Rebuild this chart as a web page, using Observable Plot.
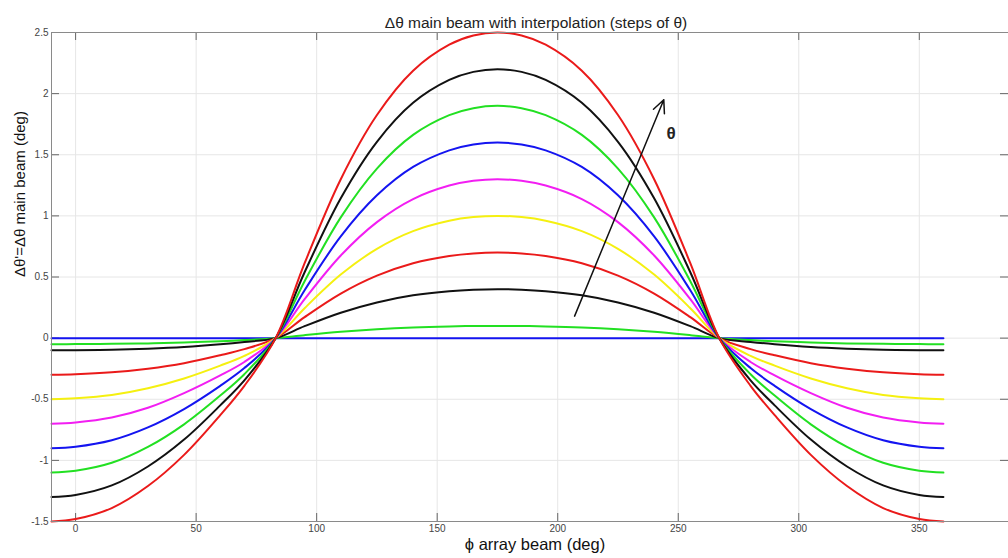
<!DOCTYPE html>
<html><head><meta charset="utf-8">
<script src="https://cdn.jsdelivr.net/npm/d3@7"></script>
<script src="https://cdn.jsdelivr.net/npm/@observablehq/plot@0.6"></script>
<style>body{margin:0;background:#fff;}</style>
</head><body><div id="chart"></div>
<script>
// phi positions (deg) where curves were read
const phi = [-10,0,15,30,45,60,70,83,95,110,125,140,155,165,175,185,195,210,225,240,255,267,280,290,305,320,335,350,360];

// Δθ' values (deg) for each step of θ
const s0 = [0,0,0,0,0,0,0,0,0,0,0,0,0,0,0,0,0,0,0,0,0,0,0,0,0,0,0,0,0];
const s1 = [-0.05,-0.049,-0.047,-0.043,-0.036,-0.025,-0.016,0,0.0245,0.052,0.073,0.0875,0.096,0.099,0.1,0.099,0.096,0.0875,0.073,0.052,0.0245,0,-0.016,-0.025,-0.036,-0.043,-0.047,-0.049,-0.05];
const s2 = [-0.1,-0.099,-0.095,-0.086,-0.072,-0.05,-0.031,0,0.098,0.208,0.292,0.35,0.384,0.396,0.4,0.396,0.384,0.35,0.292,0.208,0.098,0,-0.031,-0.05,-0.072,-0.086,-0.095,-0.099,-0.1];
const s3 = [-0.3,-0.296,-0.28,-0.25,-0.205,-0.14,-0.09,0,0.1715,0.364,0.511,0.6125,0.672,0.693,0.7,0.693,0.672,0.6125,0.511,0.364,0.1715,0,-0.09,-0.14,-0.205,-0.25,-0.28,-0.296,-0.3];
const s4 = [-0.5,-0.492,-0.465,-0.41,-0.33,-0.225,-0.145,0,0.245,0.52,0.73,0.875,0.96,0.99,1.0,0.99,0.96,0.875,0.73,0.52,0.245,0,-0.145,-0.225,-0.33,-0.41,-0.465,-0.492,-0.5];
const s5 = [-0.7,-0.69,-0.65,-0.57,-0.45,-0.305,-0.195,0,0.3185,0.676,0.949,1.1375,1.248,1.287,1.3,1.287,1.248,1.1375,0.949,0.676,0.3185,0,-0.195,-0.305,-0.45,-0.57,-0.65,-0.69,-0.7];
const s6 = [-0.9,-0.888,-0.835,-0.73,-0.58,-0.39,-0.245,0,0.392,0.832,1.168,1.4,1.536,1.584,1.6,1.584,1.536,1.4,1.168,0.832,0.392,0,-0.245,-0.39,-0.58,-0.73,-0.835,-0.888,-0.9];
const s7 = [-1.1,-1.085,-1.02,-0.89,-0.705,-0.47,-0.295,0,0.4655,0.988,1.387,1.6625,1.824,1.881,1.9,1.881,1.824,1.6625,1.387,0.988,0.4655,0,-0.295,-0.47,-0.705,-0.89,-1.02,-1.085,-1.1];
const s8 = [-1.3,-1.283,-1.205,-1.05,-0.83,-0.55,-0.345,0,0.539,1.144,1.606,1.925,2.112,2.178,2.2,2.178,2.112,1.925,1.606,1.144,0.539,0,-0.345,-0.55,-0.83,-1.05,-1.205,-1.283,-1.3];
const s9 = [-1.5,-1.48,-1.39,-1.21,-0.955,-0.63,-0.39,0,0.6125,1.3,1.825,2.1875,2.4,2.475,2.5,2.475,2.4,2.1875,1.825,1.3,0.6125,0,-0.39,-0.63,-0.955,-1.21,-1.39,-1.48,-1.5];
const seriesValues = [s0,s1,s2,s3,s4,s5,s6,s7,s8,s9];
const seriesColors = ["#1414f0","#22e022","#111111","#ea1a1a","#f5f010","#f21ef2","#1414f0","#22e022","#111111","#ea1a1a"];

const xTicks = [0,50,100,150,200,250,300,350];
const yTicks = [-1.5,-1,-0.5,0,0.5,1,1.5,2,2.5];

const titleText = "\u0394\u03b8 main beam with interpolation (steps of \u03b8)";
const xLabel = "\u03d5 array beam (deg)";
const yLabel = "\u0394\u03b8'=\u0394\u03b8 main beam (deg)";
const arrowData = [{x1: 207, y1: 0.18, x2: 244, y2: 1.95}];
const thetaLabel = [{x: 247, y: 1.67, text: "\u03b8"}];

const W = 1008, H = 558, mL = 51, mR = 0, mT = 32, mB = 37;
const frameW = W - mL - mR, frameH = H - mT - mB;

const lineMarks = seriesValues.map((vals, i) =>
  Plot.line(vals.map((v, j) => ({phi: phi[j], d: v})), {
    x: "phi", y: "d", stroke: seriesColors[i], strokeWidth: 2, curve: "catmull-rom"
  })
);

const chart = Plot.plot({
  width: W, height: H,
  marginLeft: mL, marginRight: mR, marginTop: mT, marginBottom: mB,
  style: {fontFamily: "'Liberation Sans', Arial, Helvetica, sans-serif", fontSize: "10px", background: "#fff"},
  x: {domain: [-10, 387], label: null},
  y: {domain: [-1.5, 2.5], label: null},
  marks: [
    Plot.gridX(xTicks, {stroke: "#e6e6e6", strokeOpacity: 1}),
    Plot.gridY(yTicks, {stroke: "#e6e6e6", strokeOpacity: 1}),
    Plot.tickX(xTicks, {x: d => d, insetTop: frameH - 8, stroke: "#666"}),
    Plot.tickX(xTicks, {x: d => d, insetBottom: frameH - 8, stroke: "#666"}),
    Plot.tickY(yTicks, {y: d => d, insetRight: frameW - 8, stroke: "#666"}),
    Plot.tickY(yTicks, {y: d => d, insetLeft: frameW - 8, stroke: "#666"}),
    Plot.axisX({ticks: xTicks, tickSize: 0, tickPadding: 3, fill: "#444", fontSize: 10, label: null}),
    Plot.axisY({ticks: yTicks, tickSize: 0, tickPadding: 3, fill: "#444", fontSize: 10, label: null, tickFormat: d => String(d)}),
    ...lineMarks,
    Plot.frame({stroke: "#8a8a8a"}),
    Plot.arrow(arrowData, {x1: "x1", y1: "y1", x2: "x2", y2: "y2", stroke: "#111", strokeWidth: 1.5, headLength: 14, headAngle: 50}),
    Plot.text(thetaLabel, {x: "x", y: "y", text: "text", fontWeight: "bold", fontSize: 17, fill: "#222"}),
    Plot.text([titleText], {frameAnchor: "top", dy: -16, dx: 6, fontSize: 15.5, fill: "#222"}),
    Plot.text([xLabel], {frameAnchor: "bottom", dy: 28, dx: 5, fontSize: 16.5, fill: "#111"}),
    Plot.text([yLabel], {frameAnchor: "left", dx: -31, rotate: -90, fontSize: 15, fill: "#111"})
  ]
});
document.getElementById("chart").appendChild(chart);
</script>
</body></html>
